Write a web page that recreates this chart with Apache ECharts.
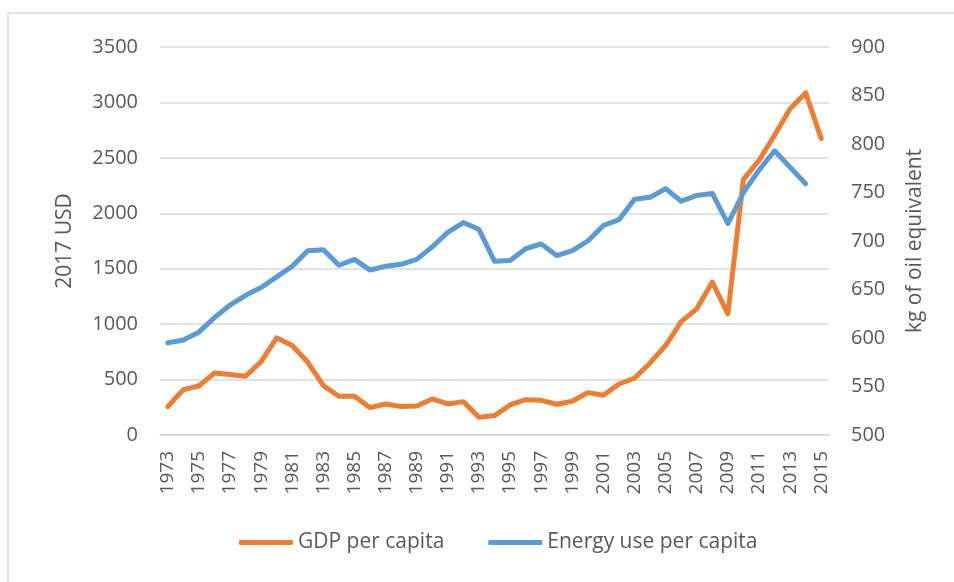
<!DOCTYPE html>
<html>
<head>
<meta charset="utf-8">
<script src="https://cdn.jsdelivr.net/npm/echarts@6/dist/echarts.min.js"></script>
<style>html,body{margin:0;padding:0;background:#fff}#c{width:954px;height:582px}</style>
</head>
<body>
<div id="c"></div>
<script>
const years = [];
for (let y = 1973; y <= 2015; y++) years.push(String(y));
const gdpPerCapita = [256, 409, 442, 560, 545, 530, 662, 876, 807, 656, 445, 349, 349, 247, 280, 256, 262, 325, 280, 301, 160, 175, 271, 319, 313, 277, 304, 382, 358, 460, 512, 650, 807, 1023, 1138, 1379, 1093, 2306, 2478, 2703, 2944, 3086, 2673];
const energyUsePerCapita = [595, 598, 606, 621, 634, 644, 652, 663, 674, 690, 691, 675, 681, 670, 674, 676, 681, 694, 709, 719, 712, 679, 680, 692, 697, 685, 690, 700, 716, 722, 743, 745, 754, 741, 747, 749, 718, 750, 773, 793, 776, 759, null];
const leftTicks = {min: 0, max: 3500, interval: 500};
const rightTicks = {min: 500, max: 900, interval: 50};

const FONT = 'Open Sans';
const TXT = '#595959';
const chart = echarts.init(document.getElementById('c'), null, {renderer: 'canvas'});
chart.setOption({
  animation: false,
  backgroundColor: '#fff',
  graphic: [{type: 'rect', shape: {x: 8, y: 13, width: 960, height: 600}, style: {fill: 'none', stroke: '#d9d9d9', lineWidth: 1.5}, silent: true}],
  grid: {left: 160, right: 125, top: 47, bottom: 147},
  legend: {
    bottom: 24, left: 234,
    itemWidth: 54, itemHeight: 5, itemGap: 44,
    icon: 'roundRect',
    textStyle: {fontFamily: FONT, fontSize: 21, color: TXT},
    data: ['GDP per capita', 'Energy use per capita']
  },
  xAxis: {
    type: 'category', data: years, boundaryGap: true,
    axisLine: {lineStyle: {color: '#d9d9d9', width: 1.5}},
    axisTick: {show: false},
    axisLabel: {interval: 1, rotate: 90, fontFamily: FONT, fontSize: 19, color: TXT, margin: 16}
  },
  yAxis: [{
    type: 'value', min: leftTicks.min, max: leftTicks.max, interval: leftTicks.interval,
    name: '2017 USD', nameLocation: 'middle', nameGap: 84, nameRotate: 90,
    nameTextStyle: {fontFamily: FONT, fontSize: 21, color: TXT},
    axisLine: {show: false}, axisTick: {show: false},
    axisLabel: {fontFamily: FONT, fontSize: 20, color: TXT, margin: 22, formatter: v => String(v)},
    splitLine: {lineStyle: {color: '#d9d9d9', width: 1.5}}
  }, {
    type: 'value', min: rightTicks.min, max: rightTicks.max, interval: rightTicks.interval,
    name: 'kg of oil equivalent', nameLocation: 'middle', nameGap: 76, nameRotate: 90,
    nameTextStyle: {fontFamily: FONT, fontSize: 21, color: TXT},
    axisLine: {show: false}, axisTick: {show: false},
    axisLabel: {fontFamily: FONT, fontSize: 20, color: TXT, margin: 22, formatter: v => String(v)},
    splitLine: {show: false}
  }],
  series: [{
    name: 'GDP per capita', type: 'line', yAxisIndex: 0, data: gdpPerCapita,
    showSymbol: false, symbol: 'none', color: '#ED7D31',
    lineStyle: {width: 5, color: '#ED7D31', cap: 'round', join: 'round'}
  }, {
    name: 'Energy use per capita', type: 'line', yAxisIndex: 1, data: energyUsePerCapita,
    showSymbol: false, symbol: 'none', color: '#5B9BD5',
    lineStyle: {width: 5, color: '#5B9BD5', cap: 'round', join: 'round'}
  }]
});
</script>
</body>
</html>
